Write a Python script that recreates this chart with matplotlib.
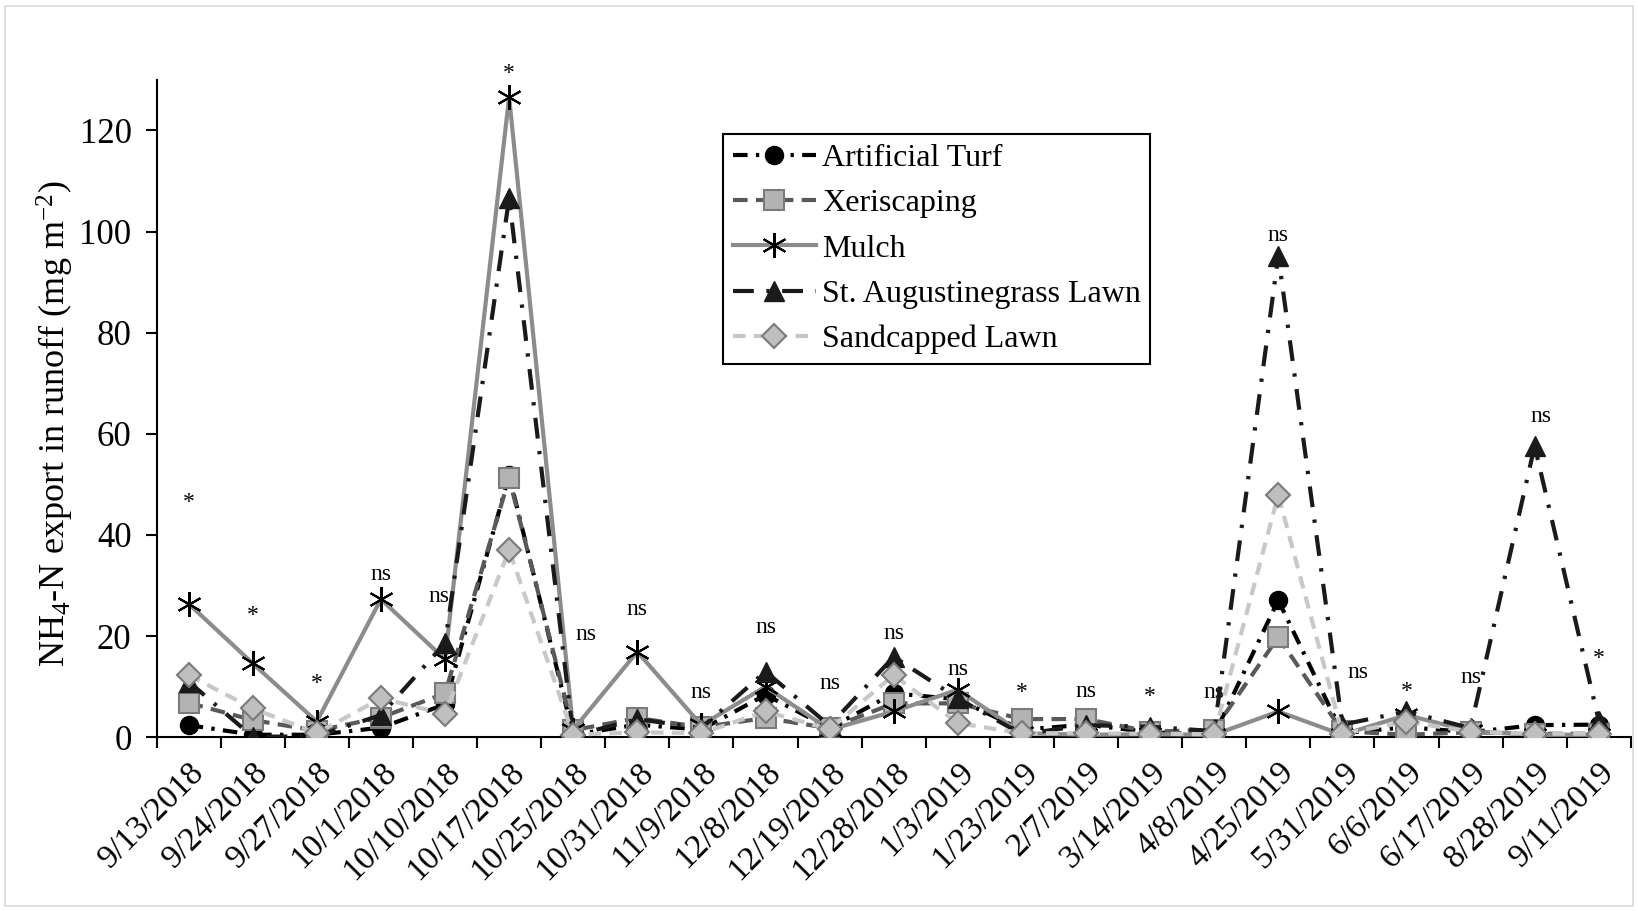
import numpy as np
import matplotlib
matplotlib.use("Agg")
from matplotlib import pyplot as plt
from matplotlib.patches import Rectangle

plt.rcParams['font.family'] = ['Liberation Serif', 'DejaVu Serif']
plt.rcParams['mathtext.fontset'] = 'custom'
plt.rcParams['mathtext.rm'] = 'Liberation Serif'
plt.rcParams['mathtext.it'] = 'Liberation Serif:italic'

dates = ["9/13/2018", "9/24/2018", "9/27/2018", "10/1/2018", "10/10/2018",
         "10/17/2018", "10/25/2018", "10/31/2018", "11/9/2018", "12/8/2018",
         "12/19/2018", "12/28/2018", "1/3/2019", "1/23/2019", "2/7/2019",
         "3/14/2019", "4/8/2019", "4/25/2019", "5/31/2019", "6/6/2019",
         "6/17/2019", "8/28/2019", "9/11/2019"]

# NH4-N export (mg m-2) per treatment
artificial_turf = [2.4, 0.5, 0.5, 1.9, 6.5, 51.8, 0.5, 2.5, 1.5, 8.4, 1.8, 8.7,
                   7.5, 1.5, 2.5, 1.0, 0.5, 27.1, 0.8, 2.0, 1.0, 2.4, 2.5]
xeriscaping = [6.8, 3.4, 1.3, 3.9, 8.7, 51.2, 1.4, 3.8, 2.0, 3.8, 1.8, 6.7,
               6.7, 3.6, 3.6, 1.1, 1.5, 19.8, 1.2, 0.5, 1.0, 0.7, 0.7]
mulch = [26.4, 14.6, 3.1, 27.3, 15.4, 126.6, 1.5, 16.9, 2.4, 10.0, 1.5, 5.1,
         9.4, 0.8, 0.5, 0.6, 0.5, 5.1, 0.5, 4.4, 1.2, 0.5, 0.5]
st_augustine = [11.0, 0.1, 0.2, 4.4, 18.6, 106.6, 0.3, 3.6, 1.8, 13.0, 2.3, 15.9,
                7.7, 0.6, 2.4, 2.1, 1.2, 95.2, 2.5, 5.1, 1.8, 57.6, 3.3]
sandcapped = [12.3, 5.7, 0.8, 7.7, 4.6, 37.0, 0.5, 1.0, 0.8, 5.1, 1.6, 12.3,
              2.8, 0.8, 0.8, 0.7, 0.6, 47.9, 0.7, 3.1, 1.1, 0.7, 0.7]

# significance of treatment effect on each date
sig = ['*', '*', '*', 'ns', 'ns', '*', 'ns', 'ns', 'ns', 'ns', 'ns', 'ns',
       'ns', '*', 'ns', '*', 'ns', 'ns', 'ns', '*', 'ns', 'ns', '*']
sig_y = [46.5, 24.0, 10.7, 32.2, 27.9, 131.2, 20.4, 25.2, 8.9, 21.7, 10.7, 20.6,
         13.4, 8.9, 9.1, 8.1, 8.9, 99.2, 12.8, 9.1, 11.8, 63.4, 15.5]
sig_dx = {4: -0.1, 6: 0.2, 18: 0.25, 21: 0.1}

x = np.arange(len(dates))

fig = plt.figure(figsize=(16.38, 9.11), dpi=100)
ax = fig.add_axes([0.0956, 0.1907, 0.900, 0.7217])

lw = 3
ax.plot(x, artificial_turf, color='black', lw=lw, dashes=(3.5, 2, 0.8, 2),
        marker='o', ms=13, mfc='black', mec='black', label='Artificial Turf', zorder=3)
ax.plot(x, xeriscaping, color='#595959', lw=lw, dashes=(3.5, 2),
        marker='s', ms=14, mfc='#b3b3b3', mec='#7a7a7a', mew=1.5, label='Xeriscaping', zorder=4)
ax.plot(x, mulch, color='#8c8c8c', lw=lw, marker=(6, 2, 0), ms=18,
        mec='black', mew=1.5, label='Mulch', zorder=5)
ax.plot(x, st_augustine, color='#1a1a1a', lw=lw, dashes=(5, 3, 0.8, 3),
        marker='^', ms=14, mfc='#1a1a1a', mec='#1a1a1a', label='St. Augustinegrass Lawn', zorder=6)
ax.plot(x, sandcapped, color='#c8c8c8', lw=lw, dashes=(3, 2),
        marker='D', ms=12, mfc='#bfbfbf', mec='#7a7a7a', mew=1.5, label='Sandcapped Lawn', zorder=7)

for i, (s, yy) in enumerate(zip(sig, sig_y)):
    ax.text(i + sig_dx.get(i, 0), yy, s, ha='center', va='center',
            fontsize=17, clip_on=False)

ax.set_xlim(-0.5, len(dates) - 0.5)
ax.set_ylim(0, 130)
ax.set_yticks(np.arange(0, 121, 20))
ax.set_xticks(x)
ax.set_xticklabels(dates, rotation=45, ha='right', rotation_mode='anchor', fontsize=24)
ax.set_xticks(np.arange(-0.5, len(dates), 1), minor=True)
ax.tick_params(axis='x', which='major', length=0, pad=14)
ax.tick_params(axis='x', which='minor', length=8, width=1.5, direction='out')
ax.tick_params(axis='y', length=8, width=1.5, direction='out', labelsize=25, pad=10)

for side in ['top', 'right']:
    ax.spines[side].set_visible(False)
for side in ['left', 'bottom']:
    ax.spines[side].set_linewidth(1.5)

ax.set_ylabel(r'NH$_{\mathrm{4}}$-N export in runoff (mg m$^{\mathrm{-2}}$)', fontsize=26)
ax.yaxis.set_label_coords(-0.055, 0.477)

leg = fig.legend(loc='upper left', bbox_to_anchor=(0.4414, 0.853), fontsize=23,
                 frameon=True, fancybox=False, edgecolor='black', framealpha=1,
                 handlelength=2.6, handletextpad=0.2, labelspacing=0.5,
                 borderpad=0.3, borderaxespad=0)
leg.get_frame().set_linewidth(1.5)

fig.patches.append(Rectangle((0.003, 0.005), 0.994, 0.988, transform=fig.transFigure,
                             fill=False, edgecolor='#d9d9d9', lw=1.2))

fig.savefig('out.png', dpi=100)
